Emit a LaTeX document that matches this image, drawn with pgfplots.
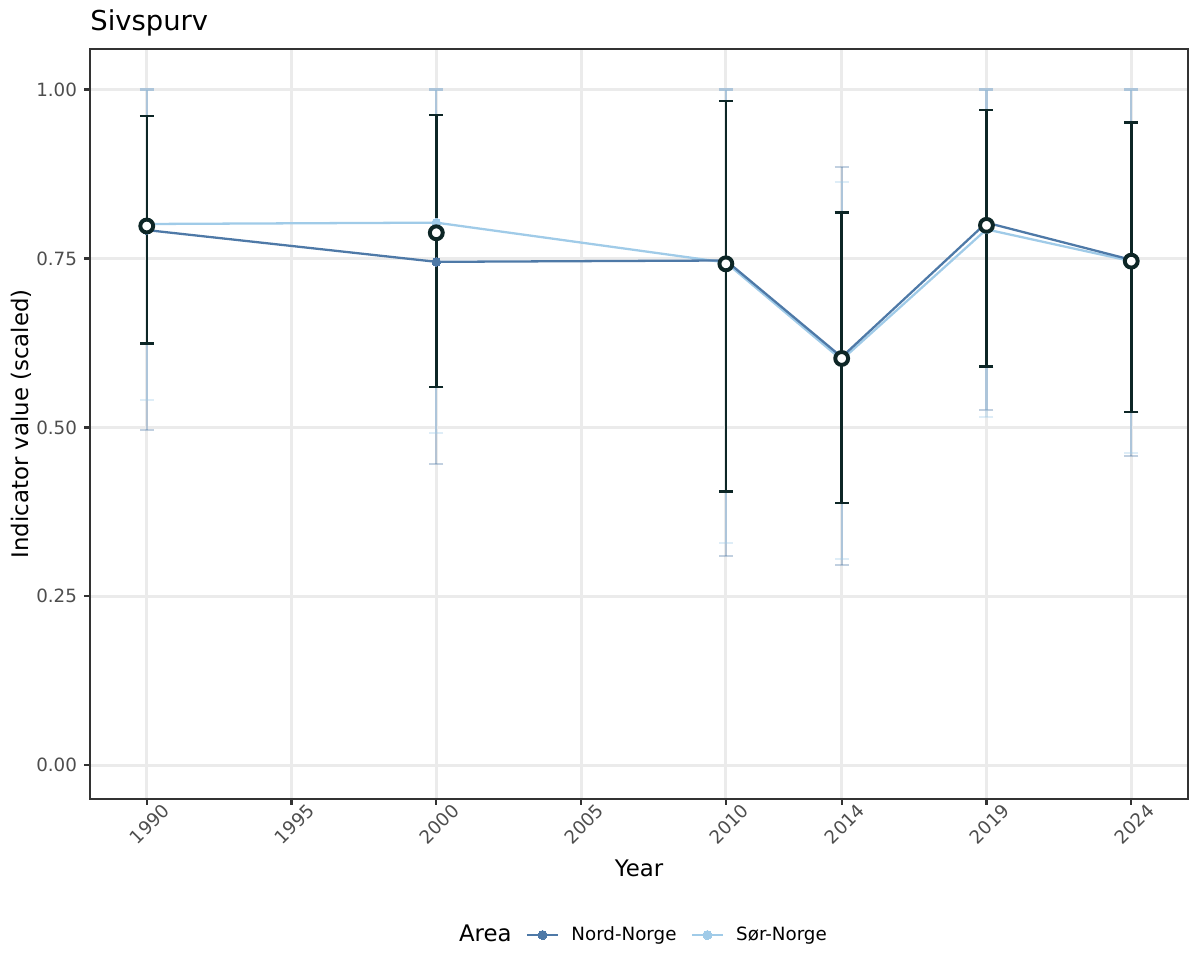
\documentclass[border=0pt]{standalone}
\usepackage{fontspec}
\setmainfont{DejaVu Sans}
\usepackage{pgfplots}
\usepackage{pgfplotstable}
\pgfplotsset{compat=1.18}
\definecolor{nord}{HTML}{4E79A7}
\definecolor{sor}{HTML}{A0CBE8}
\definecolor{tot}{HTML}{0D2626}
\definecolor{gridc}{HTML}{EBEBEB}
\definecolor{axgray}{HTML}{333333}
\definecolor{tickgray}{HTML}{4D4D4D}

\pgfplotstableread{
year y lo hi
1990 0.798 0.624 0.961
2000 0.788 0.560 0.962
2010 0.742 0.405 0.983
2014 0.602 0.388 0.818
2019 0.799 0.590 0.970
2024 0.746 0.523 0.951
}\tot

\pgfplotstableread{
year y lo hi
1990 0.792 0.496 1.000
2000 0.745 0.446 1.000
2010 0.747 0.309 1.000
2014 0.604 0.296 0.885
2019 0.803 0.526 1.000
2024 0.748 0.457 1.000
}\nord

\pgfplotstableread{
year y lo hi
1990 0.801 0.540 1.000
2000 0.803 0.492 1.000
2010 0.744 0.329 1.000
2014 0.600 0.305 0.863
2019 0.793 0.516 1.000
2024 0.746 0.462 1.000
}\sor

\begin{document}
\begin{tikzpicture}
\useasboundingbox (-43.2bp,-84.48bp) rectangle (532.8bp,383.52bp);
\begin{axis}[
  scale only axis, width=527.04bp, height=360bp,
  xmin=1988.04, xmax=2025.96, ymin=-0.05, ymax=1.06,
  xtick={1990,1995,2000,2005,2010,2014,2019,2024},
  ytick={0,0.25,0.5,0.75,1},
  /pgf/number format/assume math mode=true,
  yticklabel style={/pgf/number format/.cd, fixed, fixed zerofill, precision=2},
  xticklabel style={/pgf/number format/1000 sep={}, yshift=-9.25pt, xshift=1.4bp, rotate=45, anchor=center},
  tick label style={font=\fontsize{8.8}{10}\selectfont, text=tickgray},
  grid=major, major grid style={color=gridc, line width=1.42pt},
  axis line style={axgray, line width=0.9pt},
  tick align=outside, tick pos=left, major tick length=2.75pt,
  tick style={axgray, line width=1.1pt},
  xlabel={Year}, ylabel={Indicator value (scaled)},
  xlabel style={at={(axis description cs:0.5,0)}, yshift=-37.4bp, anchor=base, font=\fontsize{11}{13}\selectfont},
  every axis y label/.style={at={(axis description cs:0,0.5)}, xshift=-29.5bp, rotate=90, anchor=base, font=\fontsize{11}{13}\selectfont},
  every axis title shift=0pt,
  title={Sivspurv},
  title style={at={(axis description cs:0,1)}, anchor=base west, inner sep=0pt, yshift=8.9bp, font=\fontsize{13.2}{15}\selectfont},
  legend columns=3,
  legend style={draw=none, fill=none, at={(0.5,0)}, anchor=center, yshift=-65.3bp,
    font=\fontsize{8.8}{10}\selectfont, column sep=0pt,
    /tikz/every odd column/.append style={column sep=3.8bp},
    /tikz/every even column/.append style={column sep=4.8bp}},
  legend image code/.code={\draw[mark repeat=2,mark phase=2,#1] plot coordinates {(0bp,0bp) (7.5bp,0bp) (15bp,0bp)};},
]
% faint area error bars
\addplot[forget plot, draw=none, mark=none,
  error bars/.cd, y dir=both, y explicit,
  error bar style={draw=nord, draw opacity=0.35, line width=1pt},
  error mark options={rotate=90, draw=nord, draw opacity=0.35, line width=1pt, mark size=3.36bp}]
  table[x=year, y=y, y error plus expr=\thisrow{hi}-\thisrow{y}, y error minus expr=\thisrow{y}-\thisrow{lo}] {\nord};
\addplot[forget plot, draw=none, mark=none,
  error bars/.cd, y dir=both, y explicit,
  error bar style={draw=sor, draw opacity=0.35, line width=1pt},
  error mark options={rotate=90, draw=sor, draw opacity=0.35, line width=1pt, mark size=3.36bp}]
  table[x=year, y=y, y error plus expr=\thisrow{hi}-\thisrow{y}, y error minus expr=\thisrow{y}-\thisrow{lo}] {\sor};
% area lines
\addplot[forget plot, sor, line width=1.1pt, mark=*, mark size=2.1pt, mark options={fill=sor, draw=sor, line width=0pt}]
  table[x=year, y=y] {\sor};
\addplot[forget plot, nord, line width=1.1pt, mark=*, mark size=2.1pt, mark options={fill=nord, draw=nord, line width=0pt}]
  table[x=year, y=y] {\nord};
% overall
\addplot[forget plot, draw=none, mark=none,
  error bars/.cd, y dir=both, y explicit,
  error bar style={draw=tot, line width=1.2pt},
  error mark options={rotate=90, draw=tot, line width=1.2pt, mark size=3.36bp}]
  table[x=year, y=y, y error plus expr=\thisrow{hi}-\thisrow{y}, y error minus expr=\thisrow{y}-\thisrow{lo}] {\tot};
\addplot[forget plot, only marks, mark=*, mark size=3.1pt, mark options={fill=white, draw=tot, line width=1.9pt}]
  table[x=year, y=y] {\tot};
% legend
\addlegendimage{empty legend}
\addlegendentry{\fontsize{11}{13}\selectfont Area}
\addlegendimage{nord, line width=1.1pt, mark=*, mark size=2.2pt, mark options={fill=nord, draw=nord, line width=0pt}}
\addlegendentry{Nord-Norge}
\addlegendimage{sor, line width=1.1pt, mark=*, mark size=2.2pt, mark options={fill=sor, draw=sor, line width=0pt}}
\addlegendentry{Sør-Norge}
\end{axis}
\end{tikzpicture}
\end{document}
